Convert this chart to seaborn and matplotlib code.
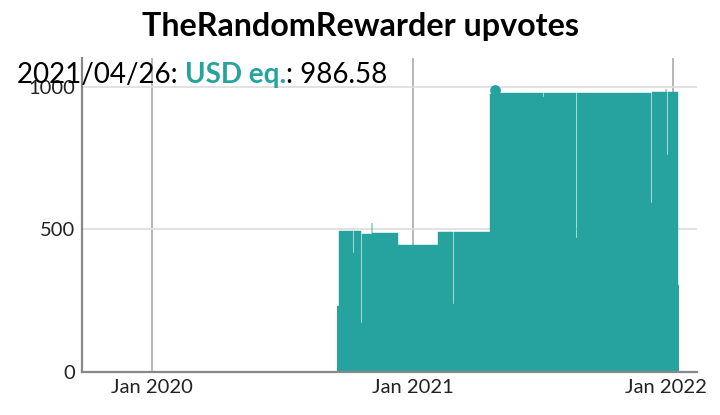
import pandas as pd
import seaborn as sns
import matplotlib.pyplot as plt
import matplotlib.transforms as mtransforms

# step levels (value holds until the next date)
dates = [
    "2020-09-17", "2020-09-19", "2020-10-09", "2020-10-10", "2020-10-20",
    "2020-10-21", "2020-11-04", "2020-11-05", "2020-12-11", "2021-02-05",
    "2021-02-20", "2021-02-21", "2021-02-26", "2021-02-27", "2021-04-19",
    "2021-04-26", "2021-04-27", "2021-07-02", "2021-07-03", "2021-08-18",
    "2021-08-19", "2021-12-01", "2021-12-02", "2021-12-21", "2021-12-22",
    "2021-12-23", "2021-12-24", "2022-01-07", "2022-01-09",
]
upvotes = [
    230, 495, 418, 495, 172,
    482, 523, 488, 446, 489,
    246, 489, 239, 489, 975,
    986.58, 979, 965, 979, 470,
    979, 593, 980, 992, 980,
    761, 982, 305, 305,
]

peak_date = "2021-04-26"
peak_value = 986.58

xtick_dates = ["2020-01-01", "2021-01-01", "2022-01-01"]
xtick_labels = ["Jan 2020", "Jan 2021", "Jan 2022"]
yticks = [0, 500, 1000]

teal = "#26a39f"

df = pd.DataFrame({"date": pd.to_datetime(dates), "upvotes": upvotes})

sns.set_theme(style="white")
plt.rcParams["font.family"] = ["Lato", "DejaVu Sans"]

fig = plt.figure(figsize=(7.2, 4.15), dpi=100)
ax = fig.add_axes([0.114, 0.1036, 0.854, 0.7564])

# outline kept thin so the one-day dips stay open in the fill
sns.lineplot(data=df, x="date", y="upvotes", drawstyle="steps-post",
             color=teal, linewidth=0.3, ax=ax)
ax.fill_between(df["date"], df["upvotes"], step="post", color=teal, linewidth=0)
ax.scatter([pd.Timestamp(peak_date)], [peak_value], s=45, color=teal, zorder=5)

ax.set_xlim(pd.Timestamp("2019-09-25"), pd.Timestamp("2022-02-03"))
ax.set_ylim(0, 1100)
ax.set_xticks(pd.to_datetime(xtick_dates))
ax.set_xticklabels(xtick_labels)
ax.set_yticks(yticks)
ax.set_xlabel("")
ax.set_ylabel("")
ax.tick_params(length=0, labelsize=14.5, labelcolor="#222222", pad=5)

# last date label is pushed left to stay inside the figure
last = ax.get_xticklabels()[-1]
last.set_transform(last.get_transform() +
                   mtransforms.ScaledTranslation(-7 / 100, 0, fig.dpi_scale_trans))

ax.set_axisbelow(True)
ax.xaxis.grid(True, color="#aaaaaa", linewidth=1.2)
ax.yaxis.grid(True, color="#dddddd", linewidth=1.2)
sns.despine(ax=ax)
for side in ["left", "bottom"]:
    ax.spines[side].set_color("#888888")
    ax.spines[side].set_linewidth(1.6)

fig.text(0.5, 0.913, "TheRandomRewarder upvotes", ha="center", va="baseline",
         fontsize=23.2, fontweight="bold", color="black")

t1 = fig.text(0.0236, 0.80, "2021/04/26: ", ha="left", va="baseline",
              fontsize=20, color="black")
t2 = ax.annotate("USD eq.", xy=(1, 0), xycoords=t1, ha="left", va="bottom",
                 fontsize=20, fontweight="bold", color=teal,
                 annotation_clip=False)
ax.annotate(": 986.58", xy=(1, 0), xycoords=t2, ha="left", va="bottom",
            fontsize=20, color="black", annotation_clip=False)

plt.savefig("out.png", dpi=100)
